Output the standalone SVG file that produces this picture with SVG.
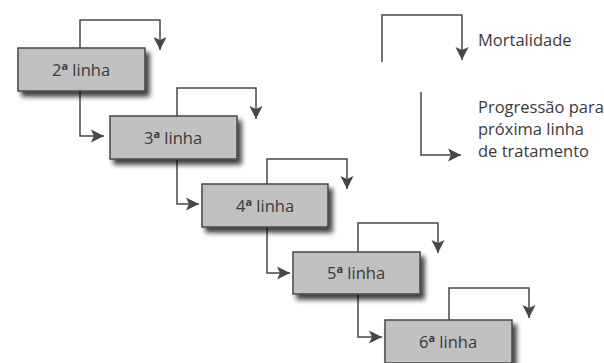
<svg xmlns="http://www.w3.org/2000/svg" width="604" height="363" viewBox="0 0 604 363">
<style>
.box{fill:#c1c1c1;stroke:#474747;stroke-width:1.5;filter:url(#sh)}
.lbl{font-family:"Open Sans","Noto Sans",sans-serif;font-size:16.5px;fill:#3a3a3a;text-anchor:middle}
.sup{font-size:11px;font-weight:bold}
.leg{font-family:"Open Sans","Noto Sans",sans-serif;font-size:16.5px;fill:#3a3a3a}
.ln{fill:none;stroke:#474747;stroke-width:1.5;marker-end:url(#ah)}
</style>
<defs>
<filter id="sh" x="-20%" y="-30%" width="150%" height="180%">
<feDropShadow dx="4" dy="5" stdDeviation="2.5" flood-color="#000" flood-opacity="0.75"/>
</filter>
<marker id="ah" markerUnits="userSpaceOnUse" markerWidth="16" markerHeight="16" refX="13" refY="6.5" orient="auto" viewBox="0 0 16 13">
<path d="M0,0 L13,6.5 L0,13 L3,6.5 Z" fill="#474747"/>
</marker>
</defs>
<rect width="604" height="363" fill="#fff"/>
<g id="connectors">
<path class="ln" d="M80,48 V20 H160 V50"/>
<path class="ln" d="M80,91 V136 H104"/>
<path class="ln" d="M177,116 V88 H256 V119"/>
<path class="ln" d="M177,159 V204 H199"/>
<path class="ln" d="M267,184 V159 H347 V189"/>
<path class="ln" d="M267,227 V273 H290"/>
<path class="ln" d="M358,252 V223 H438 V253"/>
<path class="ln" d="M358,294 V337 H382"/>
<path class="ln" d="M449,320 V288 H529 V318"/>
</g>
<g id="n2"><rect class="box" x="18" y="48" width="127" height="43"/><text class="lbl" x="81" y="76">2<tspan class="sup" dy="-6">a</tspan><tspan dy="6"> linha</tspan></text></g>
<g id="n3"><rect class="box" x="110" y="116" width="127" height="43"/><text class="lbl" x="173" y="144">3<tspan class="sup" dy="-6">a</tspan><tspan dy="6"> linha</tspan></text></g>
<g id="n4"><rect class="box" x="202" y="184" width="126" height="43"/><text class="lbl" x="265" y="212">4<tspan class="sup" dy="-6">a</tspan><tspan dy="6"> linha</tspan></text></g>
<g id="n5"><rect class="box" x="293" y="252" width="127" height="42"/><text class="lbl" x="356" y="279">5<tspan class="sup" dy="-6">a</tspan><tspan dy="6"> linha</tspan></text></g>
<g id="n6"><rect class="box" x="385" y="320" width="127" height="43"/><text class="lbl" x="448" y="348">6<tspan class="sup" dy="-6">a</tspan><tspan dy="6"> linha</tspan></text></g>
<g id="legend">
<path class="ln" d="M382,62 V15 H462 V60"/>
<text class="leg" x="478" y="46">Mortalidade</text>
<path class="ln" d="M421,92 V155 H461"/>
<text class="leg" x="478" y="113">Progressão para</text>
<text class="leg" x="478" y="135">próxima linha</text>
<text class="leg" x="478" y="157">de tratamento</text>
</g>
</svg>
